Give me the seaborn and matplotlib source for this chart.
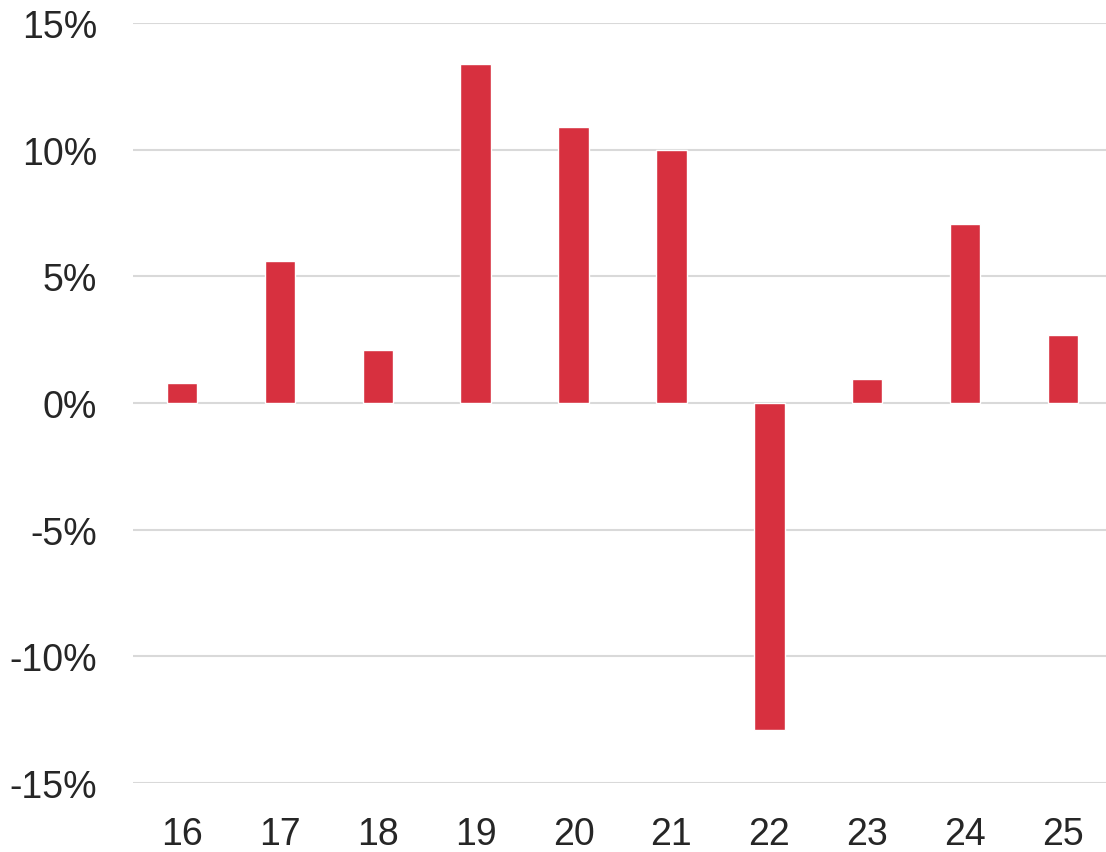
import matplotlib
matplotlib.use("Agg")
import matplotlib.pyplot as plt
import seaborn as sns
import pandas as pd

years = ["16", "17", "18", "19", "20", "21", "22", "23", "24", "25"]
returns = [0.8, 5.6, 2.1, 13.4, 10.9, 10.0, -12.9, 0.95, 7.05, 2.7]
y_ticks = [-15, -10, -5, 0, 5, 10, 15]

df = pd.DataFrame({"year": years, "ret": returns})

sns.set_style("white")
plt.rcParams["font.family"] = ["Liberation Sans", "DejaVu Sans"]

fig = plt.figure(figsize=(11.06, 8.53), dpi=100)
ax = fig.add_axes([133 / 1106, 1 - 784 / 853, 979 / 1106, 760 / 853])

sns.barplot(data=df, x="year", y="ret", color="#D7303F", width=0.31,
            saturation=1, ax=ax, zorder=3)

ax.set_xlim(-0.5, 9.5)
ax.set_ylim(-15, 15)
ax.set_yticks(y_ticks)
ax.set_yticklabels([f"{t}%" for t in y_ticks])
ax.yaxis.grid(True, color="#d9d9d9", linewidth=1.5, zorder=0)
ax.set_axisbelow(True)
for s in ax.spines.values():
    s.set_visible(False)
ax.tick_params(axis="y", length=0, pad=26, labelsize=27, labelcolor="#262626")
ax.tick_params(axis="x", length=0, pad=24, labelsize=27, labelcolor="#262626")
ax.set_xlabel("")
ax.set_ylabel("")

fig.savefig("out.png", dpi=100)
